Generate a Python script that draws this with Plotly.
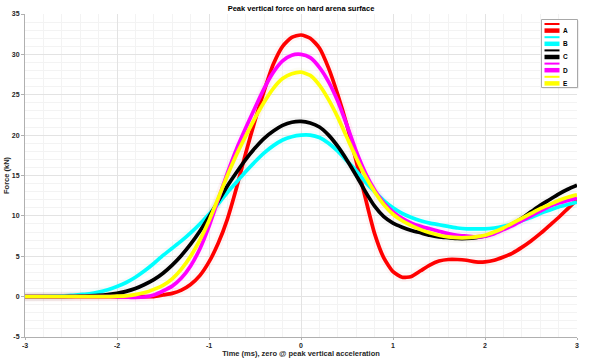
import plotly.graph_objects as go

# ---------------- data ----------------
time_ms = [round(-3.0 + 0.1 * i, 1) for i in range(61)]

force_A = [0, 0, 0, 0, 0, 0, 0, 0, 0, 0, 0, 0, 0, 0, 0,
           0.2, 0.4, 0.8, 1.5, 2.6, 4.3, 6.6, 9.6, 13.5, 17.8, 21.8, 25.5, 28.8, 31.0, 32.1,
           32.4, 32.0, 30.8, 28.3, 25.0, 21.2, 16.8, 12.2, 7.8, 4.8, 3.1,
           2.4, 2.5, 3.2, 3.9, 4.4, 4.6, 4.6, 4.5, 4.3, 4.3,
           4.5, 4.9, 5.4, 6.1, 6.9, 7.8, 8.8, 9.8, 10.9, 12.0]
force_B = [0, 0, 0.02, 0.05, 0.1, 0.15, 0.25, 0.35, 0.55, 0.85, 1.25, 1.75, 2.4, 3.2, 4.1,
           5.1, 6.0, 6.9, 7.9, 9.0, 10.2, 11.5, 12.9, 14.2, 15.5, 16.7, 17.8, 18.7, 19.4, 19.8,
           20.0, 20.0, 19.7, 19.0, 18.0, 16.8, 15.6, 14.2, 13.0, 11.9, 11.0,
           10.3, 9.8, 9.4, 9.1, 8.9, 8.7, 8.5, 8.4, 8.4, 8.4,
           8.5, 8.7, 9.0, 9.4, 9.8, 10.3, 10.7, 11.1, 11.4, 11.7]
force_C = [0, 0, 0, 0, 0, 0.03, 0.06, 0.1, 0.15, 0.25, 0.4, 0.65, 1.0, 1.5, 2.1,
           2.9, 3.9, 5.1, 6.5, 8.1, 9.9, 11.8, 13.7, 15.4, 17.0, 18.4, 19.6, 20.5, 21.2, 21.6,
           21.7, 21.5, 21.0, 20.0, 18.6, 16.9, 15.0, 13.0, 11.2, 9.9, 9.1,
           8.6, 8.2, 7.9, 7.6, 7.4, 7.3, 7.2, 7.2, 7.3, 7.5,
           7.9, 8.4, 9.0, 9.7, 10.5, 11.3, 12.0, 12.7, 13.3, 13.8]
force_D = [0, 0, 0, 0, 0, 0, 0, 0, 0, 0, 0, -0.05, -0.1, -0.05, 0.2,
           0.7, 1.3, 2.3, 3.8, 5.9, 8.7, 12.0, 15.3, 18.3, 20.9, 23.4, 25.8, 27.8, 29.2, 29.9,
           30.0, 29.6, 28.4, 26.6, 24.2, 21.2, 18.0, 15.3, 13.2, 11.6, 10.5,
           9.7, 9.1, 8.7, 8.4, 8.1, 7.8, 7.6, 7.5, 7.4, 7.5,
           7.8, 8.3, 8.8, 9.4, 10.0, 10.6, 11.2, 11.6, 11.9, 12.2]
force_E = [0, 0, 0, 0, 0, 0, 0, 0, 0, 0, 0.05, 0.1, 0.25, 0.5, 0.9,
           1.4, 2.2, 3.4, 5.0, 7.0, 9.4, 12.2, 15.0, 17.6, 19.9, 22.1, 24.1, 25.8, 27.0, 27.6,
           27.8, 27.4, 26.2, 24.4, 22.2, 19.7, 17.2, 14.9, 13.0, 11.4, 10.2,
           9.4, 8.8, 8.3, 7.9, 7.6, 7.4, 7.3, 7.3, 7.4, 7.6,
           8.0, 8.5, 9.1, 9.7, 10.3, 10.9, 11.4, 11.9, 12.3, 12.6]

series_names = ["A", "B", "C", "D", "E"]
series_values = [force_A, force_B, force_C, force_D, force_E]
series_colors = ["#ff0000", "#00ffff", "#000000", "#ff00ff", "#ffff00"]
halo_colors = ["rgba(255,0,0,0.035)", "rgba(0,200,200,0.035)", "rgba(0,0,0,0.025)",
               "rgba(255,0,255,0.035)", "rgba(200,200,0,0.04)"]

x_ticks = [-3, -2, -1, 0, 1, 2, 3]
y_ticks = [-5, 0, 5, 10, 15, 20, 25, 30, 35]

for v in series_values:
    assert len(v) == len(time_ms)

FONT = "Liberation Sans, Arial, Helvetica, sans-serif"

fig = go.Figure()

# faint halo behind each line
for vals, hc in zip(series_values, halo_colors):
    fig.add_trace(go.Scatter(x=time_ms, y=vals, mode="lines", showlegend=False,
                             hoverinfo="skip",
                             line=dict(color=hc, width=9, shape="spline", smoothing=0.6)))

for name, vals, col in zip(series_names, series_values, series_colors):
    fig.add_trace(go.Scatter(x=time_ms, y=vals, mode="lines", name=name, showlegend=False,
                             line=dict(color=col, width=3.7, shape="spline", smoothing=0.6)))

# ---------------- layout ----------------
L, R, T, B = 25, 12, 14, 26
W, H = 589, 363
pw, ph = W - L - R, H - T - B

fig.update_layout(
    width=W, height=H,
    margin=dict(l=L, r=R, t=T, b=B, pad=0, autoexpand=False),
    paper_bgcolor="white", plot_bgcolor="white",
    font=dict(family=FONT, size=7, color="#262626"),
    title=dict(text="<b>Peak vertical force on hard arena surface</b>",
               x=(L + pw / 2) / W, xanchor="center", y=1 - 8.5 / H, yanchor="middle",
               font=dict(size=7.5, color="#000000", family=FONT)),
    showlegend=False,
)

fig.update_xaxes(
    range=[-3, 3], tickvals=x_ticks, ticktext=[f"<b>{v}</b>" for v in x_ticks],
    automargin=False,
    showgrid=True, gridcolor="#e3e3e3", gridwidth=1,
    minor=dict(dtick=0.2, showgrid=True, gridcolor="#f3f3f3", gridwidth=1,
               ticks=""),
    showline=True, linecolor="#b0b0b0", linewidth=1,
    ticks="outside", ticklen=2, tickcolor="#b0b0b0",
    zeroline=False, tickfont=dict(size=7, color="#262626"),
    title=dict(text="<b>Time (ms), zero @ peak vertical acceleration</b>",
               font=dict(size=7.5, color="#262626"), standoff=0),
)
fig.update_yaxes(
    range=[-5, 35], tickvals=y_ticks, ticktext=[f"<b>{v}</b>" for v in y_ticks],
    automargin=False,
    showgrid=True, gridcolor="#e3e3e3", gridwidth=1,
    minor=dict(dtick=1, showgrid=True, gridcolor="#f3f3f3", gridwidth=1, ticks=""),
    showline=True, linecolor="#b0b0b0", linewidth=1,
    ticks="outside", ticklen=3, tickcolor="#b0b0b0",
    zeroline=False, tickfont=dict(size=7, color="#262626"),
    title=dict(text="<b>Force (kN)</b>", font=dict(size=7.5, color="#262626"), standoff=1),
)

# ---------------- manual legend (MATLAB style, two rows per series) ----------------
def px_x(px):
    return (px - L) / pw

def px_y(py):
    return (H - B - py) / ph

box_l, box_r, box_t, box_b = 541.5, 577.5, 19.5, 87.5
fig.add_shape(type="rect", xref="paper", yref="paper",
              x0=px_x(box_l + 1), x1=px_x(box_r + 1), y0=px_y(box_b + 1), y1=px_y(box_t + 1),
              line=dict(width=0), fillcolor="rgba(0,0,0,0.12)", layer="above")
fig.add_shape(type="rect", xref="paper", yref="paper",
              x0=px_x(box_l), x1=px_x(box_r), y0=px_y(box_b), y1=px_y(box_t),
              line=dict(color="#a8a8a8", width=1), fillcolor="white", layer="above")
row_h = 6.6
for i, (name, col) in enumerate(zip(series_names, series_colors)):
    y_thin = 24.0 + (2 * i) * row_h
    y_thick = 24.0 + (2 * i + 1) * row_h
    fig.add_shape(type="line", xref="paper", yref="paper",
                  x0=px_x(544.5), x1=px_x(559.5), y0=px_y(y_thin), y1=px_y(y_thin),
                  line=dict(color=col, width=2), layer="above")
    fig.add_shape(type="line", xref="paper", yref="paper",
                  x0=px_x(544.5), x1=px_x(559.5), y0=px_y(y_thick), y1=px_y(y_thick),
                  line=dict(color=col, width=4.5), layer="above")
    fig.add_annotation(xref="paper", yref="paper", x=px_x(561), y=px_y(y_thick),
                       text=f"<b>{name}</b>", showarrow=False, xanchor="left", yanchor="middle",
                       font=dict(size=6.5, color="#000000", family=FONT))

fig.write_html("out.html", config={"displayModeBar": False},
               post_script="document.body.style.margin='0px';document.body.style.padding='0px';")
